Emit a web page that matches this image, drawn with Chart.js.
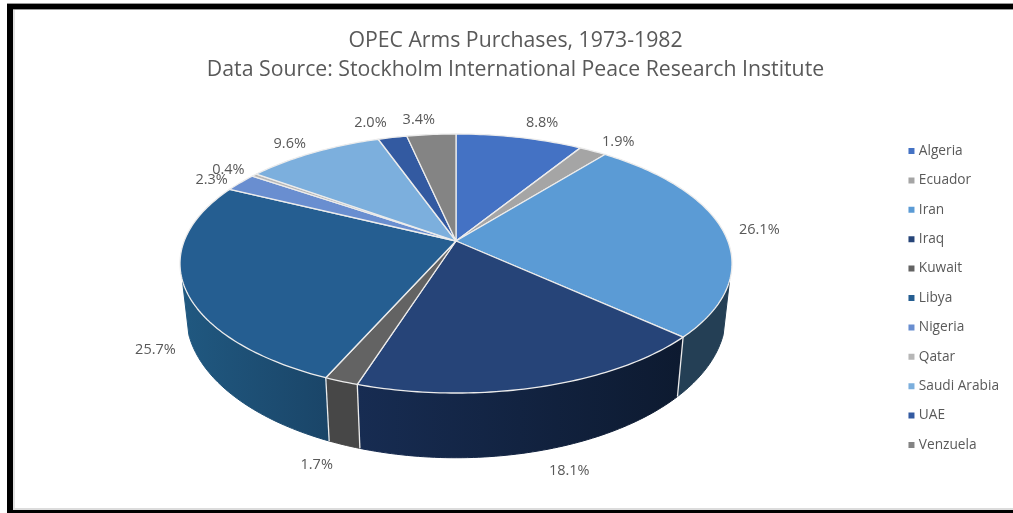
<!DOCTYPE html>
<html><head><meta charset="utf-8">
<style>
html,body{margin:0;padding:0;background:#fff;width:1013px;height:513px;overflow:hidden}
#frame{position:absolute;left:7px;top:3px;width:1006px;height:510px;box-sizing:border-box;
 border-top:1px solid #999;}
#frame i{position:absolute;display:block}
#wrap{position:absolute;left:0;top:0;width:1013px;height:513px}
</style>
<script src="https://cdn.jsdelivr.net/npm/chart.js@4"></script>
</head><body>
<div id="frame">
<i style="left:0;top:0;width:1006px;height:5px;background:#000"></i>
<i style="left:0;top:5px;width:1006px;height:1px;background:#999"></i>
<i style="left:0;top:0;width:6px;height:509px;background:#000"></i>
<i style="left:6px;top:6px;width:2px;height:503px;background:#e2e2e2"></i>
<i style="left:6px;top:504px;width:1000px;height:2px;background:#dcdcdc"></i>
<i style="left:0;top:506px;width:1006px;height:3px;background:#000"></i>
</div>
<div id="wrap"><canvas id="c" width="1013" height="513"></canvas></div>
<script>
const countries = ["Algeria","Ecuador","Iran","Iraq","Kuwait","Libya","Nigeria","Qatar","Saudi Arabia","UAE","Venzuela"];
const shares = [8.8,1.9,26.1,18.1,1.7,25.7,2.3,0.4,9.6,2.0,3.4];
const topColors = ["#4472C4","#A5A5A5","#5B9BD5","#264478","#636363","#255E91","#698ED0","#B7B7B7","#7CAFDD","#335AA1","#848484"];
const wallColors = [["#2A4679","#2A4679"],["#666","#666"],["#243F55","#243F55"],["#172C52","#0D1A30"],["#474747","#474747"],["#205880","#1A4568"],["#415882","#415882"],["#717171","#717171"],["#4D6C89","#4D6C89"],["#1F3863","#1F3863"],["#525252","#525252"]];
const labelShift = [[22.6,-14.5],[25.4,-9],[36,-1],[29,84],[-24.6,84],[-29,63],[-29,-3],[-26,-5],[-23.6,-8.6],[-22,-14.5],[-12.5,-14.6]];

// Perspective projection of the pie's plane onto the page.
const topPlane = {x:456, y:241, a:271.8, b:125.6, p:0.1738};
const basePlane = {x:456, y:291, a:265.8, b:138.4, p:0.17};
const project = (pl, ang) => {
  const u = Math.cos(ang), v = Math.sin(ang), w = 1 - pl.p * v;
  return [pl.x + pl.a * u / w, pl.y + pl.b * v / w];
};
const RIM = '#ececec';
const STEP = Math.PI / 180;
const FRONT_START = Math.asin(0.3), FRONT_END = Math.PI - FRONT_START;
const LEGEND_SHIFT = 28.5;

const pie3d = {
  id: 'pie3d',
  afterLayout(chart) {
    chart.legend.top += LEGEND_SHIFT;
    chart.legend.bottom += LEGEND_SHIFT;
  },
  beforeDatasetDraw(chart, args) {
    const ctx = chart.ctx;
    const arcs = chart.getDatasetMeta(args.index).data;
    ctx.save();
    ctx.lineJoin = 'round';
    // side walls
    arcs.forEach((arc, i) => {
      const s = Math.max(arc.startAngle, FRONT_START), e = Math.min(arc.endAngle, FRONT_END);
      if (e <= s) return;
      const n = Math.max(2, Math.ceil((e - s) / STEP));
      const topPts = [], basePts = [];
      for (let k = 0; k <= n; k++) {
        const a = s + (e - s) * k / n;
        topPts.push(project(topPlane, a));
        basePts.push(project(basePlane, a));
      }
      const xs = topPts.concat(basePts).map(q => q[0]);
      const g = ctx.createLinearGradient(Math.min(...xs), 0, Math.max(...xs), 0);
      g.addColorStop(0, wallColors[i][0]);
      g.addColorStop(1, wallColors[i][1]);
      ctx.beginPath();
      topPts.forEach((q, k) => k ? ctx.lineTo(q[0], q[1]) : ctx.moveTo(q[0], q[1]));
      basePts.reverse().forEach(q => ctx.lineTo(q[0], q[1]));
      ctx.closePath();
      ctx.fillStyle = g;
      ctx.fill();
      ctx.lineWidth = 1;
      ctx.strokeStyle = g;
      ctx.stroke();
    });
    // seams between wall pieces
    arcs.forEach(arc => {
      const a = arc.startAngle;
      if (a > FRONT_START && a < FRONT_END) {
        const t = project(topPlane, a), b = project(basePlane, a);
        ctx.beginPath(); ctx.moveTo(t[0], t[1]); ctx.lineTo(b[0], b[1]);
        ctx.lineWidth = 1.3; ctx.strokeStyle = RIM; ctx.stroke();
      }
    });
    // top faces
    arcs.forEach((arc, i) => {
      const n = Math.max(2, Math.ceil((arc.endAngle - arc.startAngle) / STEP));
      ctx.beginPath();
      ctx.moveTo(topPlane.x, topPlane.y);
      for (let k = 0; k <= n; k++) {
        const q = project(topPlane, arc.startAngle + (arc.endAngle - arc.startAngle) * k / n);
        ctx.lineTo(q[0], q[1]);
      }
      ctx.closePath();
      ctx.fillStyle = topColors[i];
      ctx.fill();
      ctx.lineWidth = 1.3;
      ctx.strokeStyle = RIM;
      ctx.stroke();
    });
    // value labels
    ctx.font = '14.5px "Open Sans"';
    ctx.fillStyle = '#595959';
    ctx.textAlign = 'center';
    ctx.textBaseline = 'middle';
    arcs.forEach((arc, i) => {
      const q = project(topPlane, (arc.startAngle + arc.endAngle) / 2);
      ctx.fillText(shares[i].toFixed(1) + '%', q[0] + labelShift[i][0], q[1] + labelShift[i][1]);
    });
    ctx.restore();
    return false;
  }
};

new Chart(document.getElementById('c'), {
  type: 'pie',
  data: { labels: countries, datasets: [{ data: shares, backgroundColor: topColors, borderWidth: 0 }] },
  options: {
    responsive: false,
    animation: false,
    layout: { padding: { left: 22, right: 4, top: 26, bottom: 0 } },
    plugins: {
      tooltip: { enabled: false },
      title: {
        display: true,
        text: ["OPEC Arms Purchases, 1973-1982", "Data Source: Stockholm International Peace Research Institute"],
        color: '#595959',
        font: { family: '"Open Sans"', size: 21.25, weight: 'normal', lineHeight: 1.365 },
        padding: { top: 0, bottom: 6 }
      },
      legend: {
        position: 'right',
        labels: {
          usePointStyle: true, pointStyle: 'rect', boxWidth: 1, boxHeight: 6,
          color: '#595959',
          font: { family: '"Open Sans"', size: 13.7 },
          padding: 15.7
        }
      }
    }
  },
  plugins: [pie3d]
});
</script>
</body></html>
